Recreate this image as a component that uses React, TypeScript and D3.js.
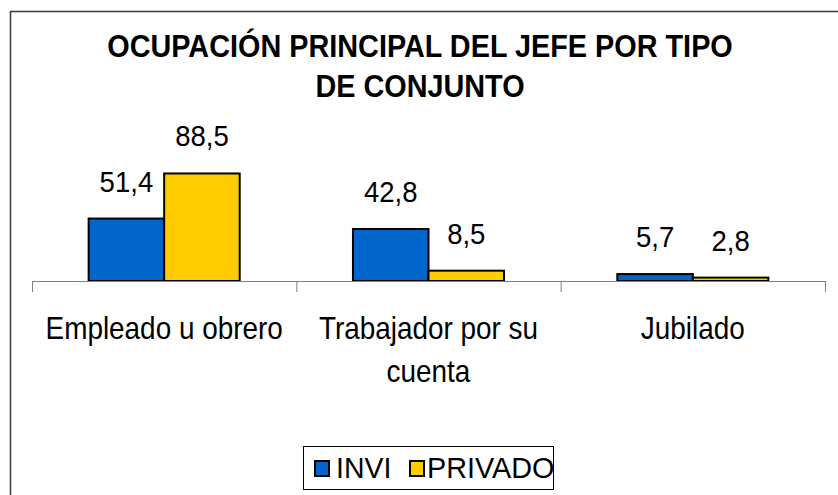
import React from "react";
import * as d3 from "d3";

const categories = ["Empleado u obrero", "Trabajador por su cuenta", "Jubilado"];
const categoryLines = [["Empleado u obrero"], ["Trabajador por su", "cuenta"], ["Jubilado"]];
const seriesNames = ["INVI", "PRIVADO"];
const inviValues = [51.4, 42.8, 5.7];
const privadoValues = [88.5, 8.5, 2.8];
const valueLabels = [["51,4", "42,8", "5,7"], ["88,5", "8,5", "2,8"]];
const titleLines = ["OCUPACIÓN PRINCIPAL DEL JEFE POR TIPO", "DE CONJUNTO"];

const colors = ["#0066CC", "#FFCC00"];
const FONT = "'Liberation Sans', Arial, sans-serif";

function SText({ x, y, sx, size, anchor = "start", weight = "normal", children }: any) {
  return (
    <g transform={`translate(${x},${y}) scale(${sx},1)`}>
      <text x={0} y={0} textAnchor={anchor} fontSize={size} fontWeight={weight} fill="#000">
        {children}
      </text>
    </g>
  );
}

export default function App() {
  const W = 838, H = 495;
  const baseY = 281;
  const x0 = d3.scaleBand<string>().domain(categories).range([32, 825]).paddingInner(0).paddingOuter(0);
  const x1 = d3.scaleBand<string>().domain(seriesNames).range([0, x0.bandwidth()]).paddingInner(0).paddingOuter(0.75);
  const y = d3.scaleLinear().domain([0, 100]).range([baseY, 159.5]);
  const series = [inviValues, privadoValues];
  const tickXs = [...categories.map((c) => x0(c)!), 825];

  return (
    <svg width={W} height={H} style={{ position: "absolute", left: 0, top: 0, background: "#fff" }} fontFamily={FONT}>
      <rect x={10.5} y={11.5} width={900} height={600} fill="none" stroke="#3a3a3a" strokeWidth={1.5} />
      {titleLines.map((t, i) => (
        <SText key={i} x={420} y={57 + i * 40} sx={0.93} size={31} anchor="middle" weight="bold">
          {t}
        </SText>
      ))}
      {series.map((vals, si) =>
        categories.map((c, ci) => {
          const bx = x0(c)! + x1(seriesNames[si])!;
          const top = y(vals[ci]);
          return (
            <g key={`${si}-${ci}`}>
              <rect x={bx} y={top} width={x1.bandwidth()} height={baseY - top} fill={colors[si]} stroke="#000" strokeWidth={2} />
              <SText x={bx + x1.bandwidth() / 2} y={top - 27} sx={0.95} size={29} anchor="middle">
                {valueLabels[si][ci]}
              </SText>
            </g>
          );
        })
      )}
      <line x1={32} x2={825} y1={baseY + 0.5} y2={baseY + 0.5} stroke="#808080" strokeWidth={1} />
      {tickXs.map((tx, i) => (
        <line key={i} x1={tx + 0.5} x2={tx + 0.5} y1={baseY} y2={baseY + 11} stroke="#808080" strokeWidth={1} />
      ))}
      {categories.map((c, ci) =>
        categoryLines[ci].map((ln, li) => (
          <SText key={c + li} x={x0(c)! + x0.bandwidth() / 2} y={339 + li * 43} sx={0.9} size={31} anchor="middle">
            {ln}
          </SText>
        ))
      )}
      <g>
        <rect x={303.5} y={446.5} width={250} height={43} fill="#fff" stroke="#000" strokeWidth={1} />
        <rect x={315} y={461} width={14} height={15} fill={colors[0]} stroke="#000" strokeWidth={2} />
        <SText x={336} y={478} sx={0.95} size={30}>{seriesNames[0]}</SText>
        <rect x={410} y={461} width={14} height={15} fill={colors[1]} stroke="#000" strokeWidth={2} />
        <SText x={427} y={478} sx={0.96} size={30}>{seriesNames[1]}</SText>
      </g>
    </svg>
  );
}
